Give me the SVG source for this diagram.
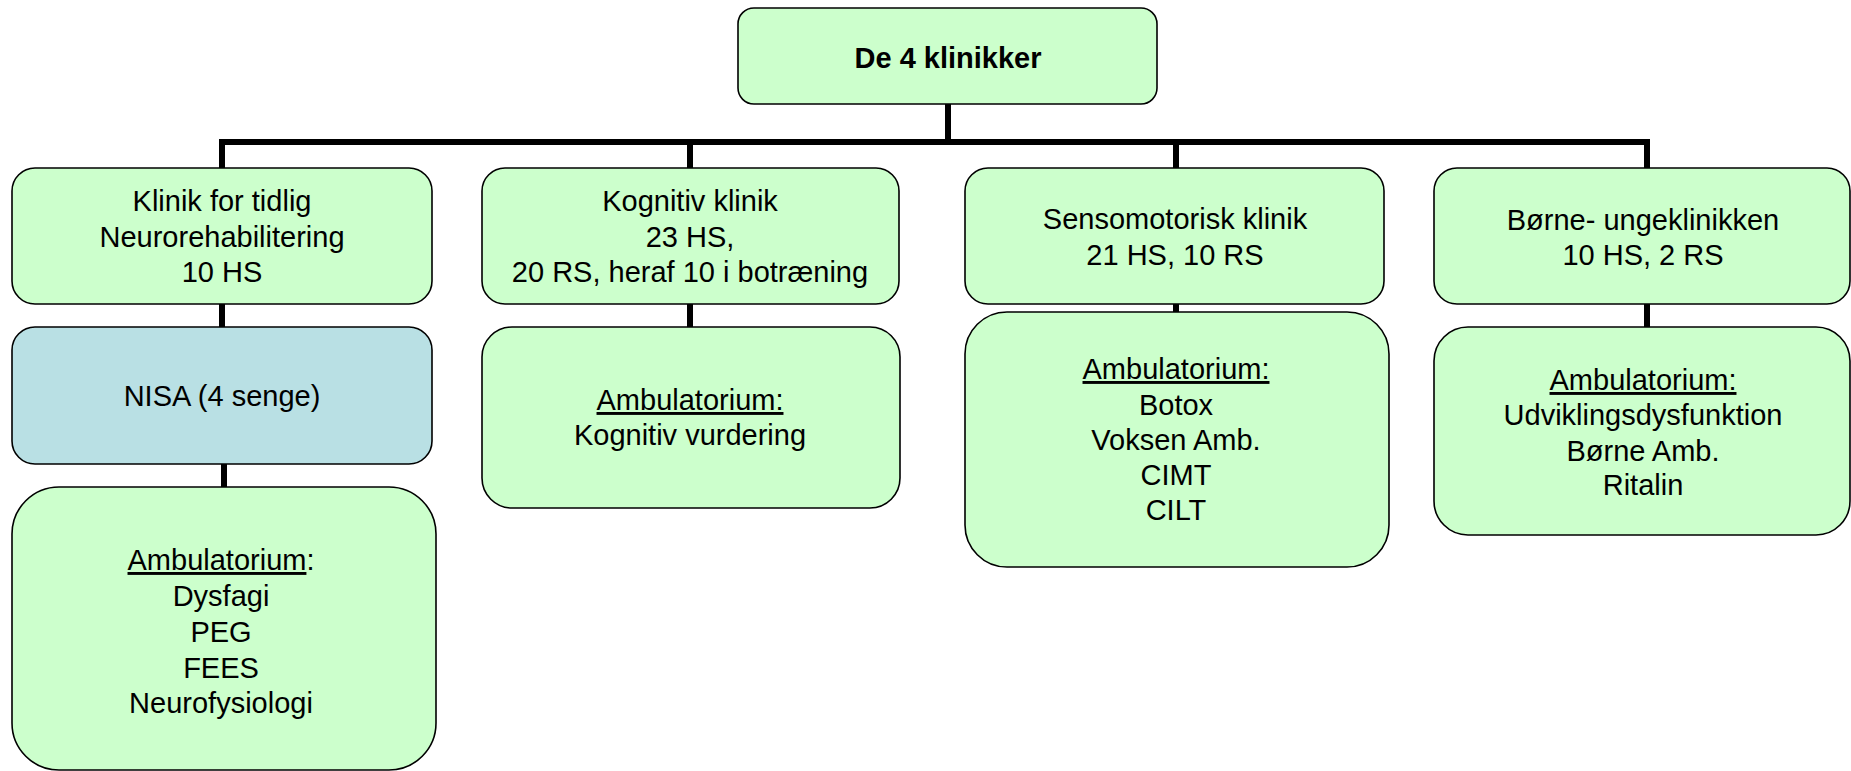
<svg xmlns="http://www.w3.org/2000/svg" width="1851" height="771" viewBox="0 0 1851 771">
<style>
.box{fill:#CCFFCC;stroke:#000;stroke-width:1.6}
.blue{fill:#B9E0E4}
.t{font-family:"Liberation Sans",Arial,sans-serif;font-size:29px;fill:#000;text-anchor:middle}
.b{font-weight:bold}
.u{text-decoration:underline}
.c{stroke:#000;stroke-width:6;fill:none}
</style>
<rect width="1851" height="771" fill="#fff"/>
<g id="connectors">
<path class="c" d="M948 104V142M222 168V142H1647V168M690 142V168M1176 142V168"/>
<path class="c" d="M222 304V327M224 464V487M690 304V327M1176 304V312M1647 304V327"/>
</g>
<g id="root">
<rect class="box" x="738" y="8" width="419" height="96" rx="16"/>
<text class="t b" x="948" y="68">De 4 klinikker</text>
</g>
<g id="klinik1">
<rect class="box" x="12" y="168" width="420" height="136" rx="23"/>
<text class="t" x="222" y="211">Klinik for tidlig</text>
<text class="t" x="222" y="247">Neurorehabilitering</text>
<text class="t" x="222" y="282">10 HS</text>
</g>
<g id="nisa">
<rect class="box blue" x="12" y="327" width="420" height="137" rx="23"/>
<text class="t" x="222" y="406">NISA (4 senge)</text>
</g>
<g id="amb1">
<rect class="box" x="12" y="487" width="424" height="283" rx="47"/>
<text class="t" x="221" y="570"><tspan class="u">Ambulatorium</tspan>:</text>
<text class="t" x="221" y="606">Dysfagi</text>
<text class="t" x="221" y="642">PEG</text>
<text class="t" x="221" y="678">FEES</text>
<text class="t" x="221" y="713">Neurofysiologi</text>
</g>
<g id="klinik2">
<rect class="box" x="482" y="168" width="417" height="136" rx="23"/>
<text class="t" x="690" y="211">Kognitiv klinik</text>
<text class="t" x="690" y="247">23 HS,</text>
<text class="t" x="690" y="282">20 RS, heraf 10 i botræning</text>
</g>
<g id="amb2">
<rect class="box" x="482" y="327" width="418" height="181" rx="30"/>
<text class="t u" x="690" y="410">Ambulatorium:</text>
<text class="t" x="690" y="445">Kognitiv vurdering</text>
</g>
<g id="klinik3">
<rect class="box" x="965" y="168" width="419" height="136" rx="23"/>
<text class="t" x="1175" y="229">Sensomotorisk klinik</text>
<text class="t" x="1175" y="265">21 HS, 10 RS</text>
</g>
<g id="amb3">
<rect class="box" x="965" y="312" width="424" height="255" rx="42"/>
<text class="t u" x="1176" y="379">Ambulatorium:</text>
<text class="t" x="1176" y="415">Botox</text>
<text class="t" x="1176" y="450">Voksen Amb.</text>
<text class="t" x="1176" y="485">CIMT</text>
<text class="t" x="1176" y="520">CILT</text>
</g>
<g id="klinik4">
<rect class="box" x="1434" y="168" width="416" height="136" rx="23"/>
<text class="t" x="1643" y="230">Børne- ungeklinikken</text>
<text class="t" x="1643" y="265">10 HS, 2 RS</text>
</g>
<g id="amb4">
<rect class="box" x="1434" y="327" width="416" height="208" rx="34"/>
<text class="t u" x="1643" y="390">Ambulatorium:</text>
<text class="t" x="1643" y="425">Udviklingsdysfunktion</text>
<text class="t" x="1643" y="461">Børne Amb.</text>
<text class="t" x="1643" y="495">Ritalin</text>
</g>
</svg>
